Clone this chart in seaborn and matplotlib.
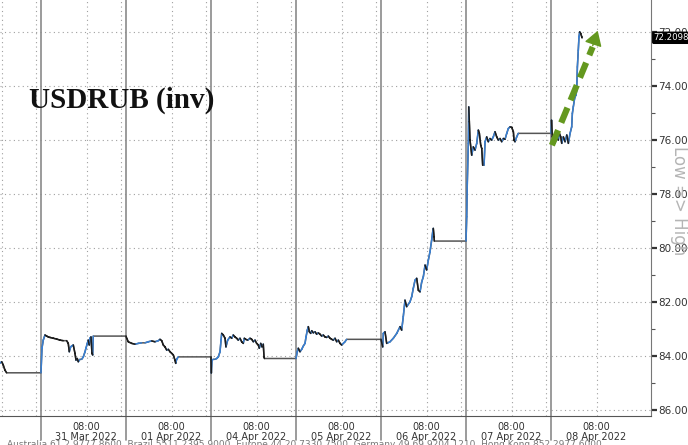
import numpy as np
import pandas as pd
import matplotlib.pyplot as plt
import seaborn as sns

# USDRUB intraday, x in trading-day units (0 = start of 31 Mar session)
times = [
    # 30 Mar tail
    -0.482, -0.462, -0.444, -0.424, -0.404, 0.0,
    # 31 Mar
    0.012, 0.027, 0.047, 0.067, 0.086, 0.106, 0.145, 0.185, 0.224, 0.262,
    0.302, 0.321, 0.333, 0.349, 0.361, 0.380, 0.400, 0.412, 0.427, 0.439,
    0.459, 0.479, 0.498, 0.518, 0.529, 0.545, 0.556, 0.568, 0.576, 0.588,
    0.600, 0.608, 0.615, 1.0,
    # 01 Apr
    1.008, 1.027, 1.067, 1.106, 1.145, 1.185, 1.224, 1.262, 1.302, 1.341,
    1.380, 1.400, 1.420, 1.439, 1.459, 1.479, 1.498, 1.518, 1.538, 1.557,
    1.576, 1.585, 1.596, 1.615, 2.0,
    # 04 Apr
    2.004, 2.012, 2.027, 2.047, 2.067, 2.086, 2.106, 2.118, 2.126, 2.145,
    2.165, 2.176, 2.196, 2.224, 2.244, 2.262, 2.282, 2.302, 2.321, 2.341,
    2.361, 2.380, 2.392, 2.408, 2.432, 2.459, 2.479, 2.498, 2.518, 2.537,
    2.557, 2.568, 2.585, 2.600, 2.615, 2.624, 2.629, 3.0,
    # 05 Apr
    3.015, 3.027, 3.047, 3.067, 3.086, 3.106, 3.118, 3.133, 3.145, 3.157,
    3.173, 3.185, 3.204, 3.224, 3.243, 3.262, 3.282, 3.302, 3.321, 3.341,
    3.361, 3.380, 3.400, 3.420, 3.439, 3.459, 3.479, 3.498, 3.518, 3.537,
    3.557, 3.576, 3.596, 4.0,
    # 06 Apr
    4.020, 4.027, 4.047, 4.067, 4.106, 4.145, 4.185, 4.224, 4.243, 4.262,
    4.282, 4.302, 4.341, 4.361, 4.380, 4.400, 4.420, 4.439, 4.459, 4.479,
    4.498, 4.518, 4.537, 4.557, 4.576, 4.596, 4.608, 4.615, 4.624, 4.627, 5.0,
    # 07 Apr
    5.008, 5.015, 5.027, 5.032, 5.039, 5.047, 5.067, 5.086, 5.106, 5.126,
    5.145, 5.157, 5.173, 5.185, 5.196, 5.212, 5.224, 5.243, 5.262, 5.282,
    5.302, 5.321, 5.341, 5.361, 5.380, 5.400, 5.420, 5.439, 5.459, 5.479,
    5.498, 5.518, 5.538, 5.557, 5.565, 5.576, 5.596, 5.615, 6.0,
    # 08 Apr
    6.006, 6.015, 6.035, 6.047, 6.067, 6.086, 6.098, 6.114, 6.126, 6.145,
    6.165, 6.185, 6.204, 6.224, 6.243, 6.251, 6.262, 6.274, 6.282, 6.294,
    6.302, 6.310, 6.321, 6.329, 6.337, 6.349, 6.361, 6.365,
]
prices = [
    84.26, 84.21, 84.33, 84.52, 84.62, 84.62,
    83.70, 83.41, 83.22, 83.26, 83.29, 83.31, 83.34, 83.37, 83.41, 83.43,
    83.43, 83.53, 83.84, 83.66, 83.63, 83.59, 83.90, 84.15, 84.09, 84.21,
    84.12, 84.12, 84.03, 83.84, 83.71, 83.53, 83.41, 83.59, 83.34, 83.29,
    83.90, 83.96, 83.26, 83.26,
    83.34, 83.47, 83.53, 83.56, 83.53, 83.51, 83.51, 83.47, 83.44, 83.47,
    83.43, 83.38, 83.43, 83.59, 83.66, 83.78, 83.75, 83.84, 83.90, 83.96,
    84.15, 84.27, 84.12, 84.03, 84.03,
    84.63, 84.15, 84.12, 84.12, 84.09, 84.03, 83.84, 83.41, 83.16, 83.22,
    83.34, 83.66, 83.41, 83.29, 83.34, 83.22, 83.29, 83.34, 83.41, 83.34,
    83.47, 83.53, 83.34, 83.38, 83.41, 83.34, 83.38, 83.47, 83.41, 83.53,
    83.59, 83.71, 83.53, 83.66, 83.56, 84.03, 84.09, 84.09,
    83.84, 83.71, 83.84, 83.75, 83.63, 83.53, 83.29, 83.04, 82.91, 83.10,
    83.16, 83.06, 83.14, 83.10, 83.19, 83.14, 83.19, 83.26, 83.22, 83.29,
    83.31, 83.26, 83.34, 83.38, 83.41, 83.34, 83.47, 83.41, 83.53, 83.59,
    83.53, 83.47, 83.38, 83.38,
    83.66, 83.16, 83.10, 83.53, 83.47, 83.34, 83.16, 82.91, 83.04, 82.54,
    81.93, 82.17, 81.99, 81.80, 81.49, 81.19, 81.12, 81.56, 81.62, 81.25,
    81.06, 80.63, 80.81, 80.44, 80.14, 79.70, 79.40, 79.27, 79.58, 79.74, 79.74,
    78.84, 77.59, 76.12, 74.77, 75.32, 76.00, 76.56, 76.25, 76.37, 76.12,
    75.63, 75.75, 76.19, 76.31, 76.93, 76.93, 76.06, 75.88, 76.06, 75.94,
    76.00, 75.88, 75.69, 75.88, 76.00, 75.94, 76.06, 75.94, 75.97, 75.75,
    75.57, 75.51, 75.53, 75.69, 76.00, 76.06, 75.88, 75.75, 75.75,
    75.26, 75.88, 76.00, 76.12, 75.88, 76.00, 75.75, 75.88, 76.12, 75.88,
    76.06, 75.81, 76.12, 75.75, 75.51, 75.01, 74.77, 74.52, 74.40, 74.33,
    74.15, 73.29, 72.67, 72.17, 71.99, 72.05, 72.17, 72.2098,
]
session_starts = [0, 1, 2, 3, 4, 5, 6]
day_labels = ['31 Mar 2022', '01 Apr 2022', '04 Apr 2022', '05 Apr 2022',
              '06 Apr 2022', '07 Apr 2022', '08 Apr 2022']
y_ticks = [72, 74, 76, 78, 80, 82, 84, 86]
last_price = 72.2098

df = pd.DataFrame({'t': times, 'px': prices})

sns.set_style('white')
fig = plt.figure(figsize=(6.88, 4.45), dpi=100)
ax = fig.add_axes([0, 29 / 445, 651 / 688, 416 / 445])

# grid
dots = (0, (1, 3))
for y in y_ticks:
    ax.axhline(y, color='#a0a0a0', lw=0.8, ls=dots, zorder=0)
for k in range(-1, 7):
    ax.axvline(k + 0.54, color='#a0a0a0', lw=0.8, ls=dots, zorder=0)
for k in session_starts:
    ax.axvline(k - 0.06, color='#a0a0a0', lw=0.8, ls=dots, zorder=0)
    ax.axvline(k, ymin=-0.058, ymax=1, color='#8a8a8a', lw=1.2, zorder=1, clip_on=False)

# price line: base in gray, falling segments blue, rising segments black
sns.lineplot(data=df, x='t', y='px', estimator=None, sort=False, color='#555555', lw=1.1, ax=ax, zorder=3)
t = np.array(times)
p = np.array(prices)
d = np.diff(p)
for mask, col in [(d < 0, '#3a7fd0'), (d > 0, '#1c1c1c')]:
    xs, ys = [], []
    for i in np.where(mask)[0]:
        xs += [t[i], t[i + 1], np.nan]
        ys += [p[i], p[i + 1], np.nan]
    ax.plot(xs, ys, color=col, lw=1.1, zorder=4)

ax.set_xlim(-0.482, 7.176)
ax.set_ylim(86.22, 70.81)

# axes styling
for s in ['top', 'left']:
    ax.spines[s].set_visible(False)
ax.spines['right'].set_color('#777777')
ax.spines['bottom'].set_color('#555555')
ax.yaxis.tick_right()
ax.set_yticks(y_ticks)
ax.set_yticklabels([f'{v:.2f}' for v in y_ticks])
ax.set_yticks([73, 75, 77, 79, 81, 83, 85], minor=True)
ax.tick_params(axis='y', which='major', direction='out', length=4, width=1.6,
               color='#333333', labelsize=7.5, labelcolor='#333333', pad=1)
ax.tick_params(axis='y', which='minor', direction='out', length=3, width=0.8, color='#555555')
ax.set_xticks([k + 0.53 for k in session_starts])
ax.set_xticklabels([f'08:00\n{lab}' for lab in day_labels], linespacing=1.05)
ax.tick_params(axis='x', direction='out', length=3, width=0.8, color='#555555',
               labelsize=7, labelcolor='#333333', pad=1)
ax.set_xlabel('')
ax.set_ylabel('')

# last value tag
ax.annotate(f'{last_price:.4f}', xy=(1.0, last_price), xycoords=('axes fraction', 'data'),
            xytext=(2, 0), textcoords='offset points', va='center', ha='left',
            fontsize=6.2, color='white', annotation_clip=False, zorder=10,
            bbox=dict(boxstyle='round,pad=0.12', fc='black', ec='black'))

# title & side text
ax.text(0.045, 0.76, 'USDRUB (inv)', transform=ax.transAxes, fontsize=21,
        fontweight='bold', family='Liberation Serif', color='#111111', ha='left', va='center')
fig.text(0.987, 0.55, 'Low => High', rotation=270, fontsize=12, color='#b5b5b5',
         ha='center', va='center')

# green dashed arrow
green = '#64981f'
ax.plot([6.01, 6.49], [76.19, 72.55], color=green, lw=4.5, ls=(0, (2.6, 1.3)),
        solid_capstyle='butt', zorder=6)
ax.annotate('', xy=(6.56, 71.85), xytext=(6.48, 72.6),
            arrowprops=dict(arrowstyle='-|>,head_length=0.9,head_width=0.55', color=green, lw=1),
            zorder=7)

fig.text(0.01, 0.002, 'Australia 61 2 9777 8600  Brazil 5511 2395 9000  Europe 44 20 7330 7500  '
         'Germany 49 69 9204 1210  Hong Kong 852 2977 6000', fontsize=6.5, color='#777777',
         va='center')

fig.savefig('out.png', dpi=100)
